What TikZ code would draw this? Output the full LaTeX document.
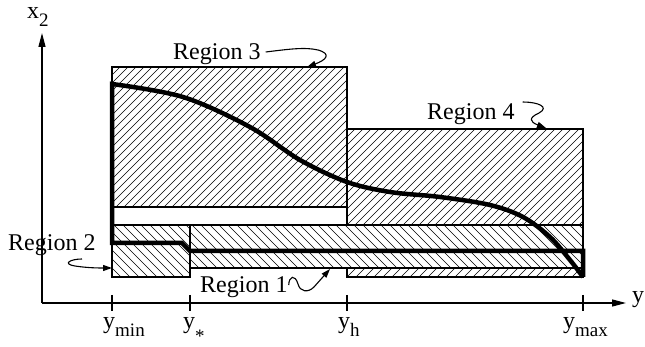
\documentclass[tikz,border=0pt]{standalone}
\usepackage{fontspec}
\setmainfont{Liberation Serif}
\usetikzlibrary{arrows.meta}
\newcommand{\sbl}[2]{#1\raisebox{-8pt}{\fontsize{19}{22}\selectfont #2}}
\newcommand{\hatchup}[5]{%
  \begin{scope}
  \clip (#1,#2) rectangle (#3,#4);
  \pgfmathsetmacro{\hh}{#4-#2}
  \pgfmathtruncatemacro{\nn}{(#3-#1+\hh)/#5+1}
  \foreach \k in {0,...,\nn}{\draw[hatchline] ({#1-\hh+\k*#5},#4) -- ++(\hh,-\hh);}
  \end{scope}}
\newcommand{\hatchdown}[5]{%
  \begin{scope}
  \clip (#1,#2) rectangle (#3,#4);
  \pgfmathsetmacro{\hh}{#4-#2}
  \pgfmathtruncatemacro{\nn}{(#3-#1+\hh)/#5+1}
  \foreach \k in {0,...,\nn}{\draw[hatchline] ({#1-\hh+\k*#5},#2) -- ++(\hh,\hh);}
  \end{scope}}
\begin{document}
\begin{tikzpicture}[x=1pt,y=-1pt,
  hatchline/.style={line width=0.6pt},
  boxline/.style={line width=1.2pt},
  axisline/.style={line width=1.3pt,-{Triangle[length=14pt,width=7pt]}},
  tickline/.style={line width=1.1pt},
  thickcurve/.style={line width=4.5pt,line join=miter},
  lab/.style={font=\fontsize{24}{28}\selectfont,inner sep=0pt,anchor=base west},
  squig/.style={line width=1.1pt,-{Triangle[length=9pt,width=6pt]}}]
\useasboundingbox (0,0) rectangle (645,347);
% hatching
\hatchup{112}{67}{347}{207}{8}
\hatchup{347}{129}{583}{225}{8}
\hatchdown{112}{225}{190}{277}{9}
\hatchdown{190}{225}{583}{268}{9}
\hatchup{347}{268}{583}{277}{9}
% outlines
\draw[boxline] (112,67) rectangle (347,207);
\draw[boxline] (347,129) rectangle (583,225);
\draw[boxline] (112,225) rectangle (190,277);
\draw[boxline] (190,225) rectangle (583,268);
\draw[boxline] (347,268) rectangle (583,277);
% thick curve
\draw[thickcurve] (583,277) -- (583,251) -- (190,251) -- (182,243) -- (112,243) -- (112,84)
  -- plot[smooth,tension=0.55] coordinates {(112,84) (183,97) (250,127) (300,160) (347,182) (390,192) (440,197) (490,205) (523,217) (550,237) (570,260) (583,277)};
% axes
\coordinate (O) at (42,303);
\coordinate (ytip) at (42,33);
\coordinate (xtip) at (626,303);
\draw[axisline] (O) -- (ytip);
\draw[axisline] (O) -- (xtip);
\foreach \n/\xx in {ymin/112,ystar/190,yh/347,ymax/583}{
  \coordinate (t\n) at (\xx,295);
  \draw[tickline] (t\n) -- ++(0,16);
}
\node[lab] (lx2) at (27,19) {\sbl{x}{2}};
\node[lab] (ly) at (632,302) {y};
\node[lab] (lymin) at (103,328) {\sbl{y}{min}};
\node[lab] (lystar) at (183,328) {y\raisebox{-14pt}{\fontsize{19}{22}\selectfont *}};
\node[lab] (lyh) at (338,328) {\sbl{y}{h}};
\node[lab] (lymax) at (563,328) {\sbl{y}{max}};
% region labels
\node[lab] (r3) at (173,60) {Region 3};
\node[lab] (r4) at (427,120) {Region 4};
\node[lab] (r2) at (8,251) {Region 2};
\node[lab] (r1) at (200,293) {Region 1};
\coordinate (a3) at (307,67);
\coordinate (a4) at (546,128);
\coordinate (a2) at (112,268);
\coordinate (a1) at (330,269);
\draw[squig] ([xshift=5pt,yshift=8pt]r3.base east) .. controls (290,49) and (305,47) .. (318,50) .. controls (332,54) and (326,60) .. (a3);
\draw[squig] ([xshift=8pt,yshift=18pt]r4.base east) .. controls (538,102) and (550,107) .. (539,113) .. controls (528,118) and (530,122) .. (a4);
\draw[squig] (82,259) .. controls (70,259) and (62,264) .. (75,266) .. controls (82,267) and (90,268) .. (a2);
\draw[squig] ([xshift=1pt,yshift=8pt]r1.base east) .. controls (289,276) and (295,274) .. (298,284) .. controls (300,292) and (308,293) .. (314,287) -- (a1);
\end{tikzpicture}
\end{document}
